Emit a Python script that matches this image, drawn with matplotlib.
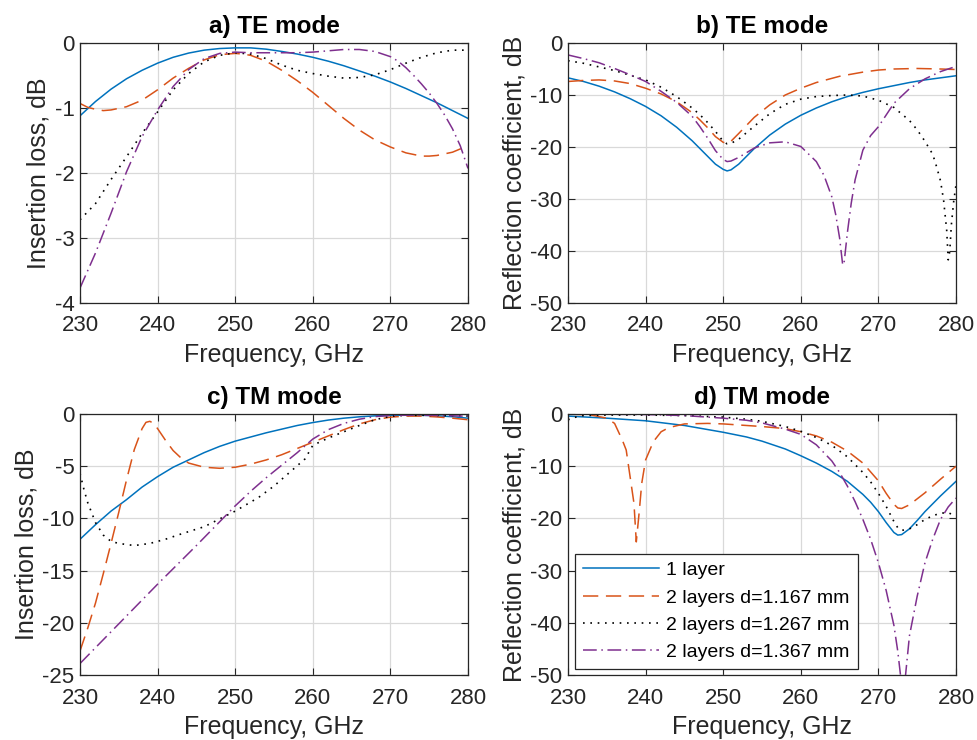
import matplotlib
matplotlib.use("Agg")
import matplotlib.pyplot as plt

plt.rcParams['font.family'] = ['Liberation Sans', 'DejaVu Sans']

# ---------------- data ----------------
series_labels = ["1 layer", "2 layers d=1.167 mm", "2 layers d=1.267 mm", "2 layers d=1.367 mm"]
panel_titles = ["a) TE mode", "b) TE mode", "c) TM mode", "d) TM mode"]
xlabel_text = "Frequency, GHz"
ylabels = ["Insertion loss, dB", "Reflection coefficient, dB", "Insertion loss, dB", "Reflection coefficient, dB"]
xticks = [230, 240, 250, 260, 270, 280]
yticks_a = [0, -1, -2, -3, -4]
yticks_b = [0, -10, -20, -30, -40, -50]
yticks_c = [0, -5, -10, -15, -20, -25]
yticks_d = [0, -10, -20, -30, -40, -50]

# a) TE insertion loss
a1_f = [230, 232, 234, 236, 238, 240, 242, 244, 246, 248, 250, 252, 254, 256, 258, 260, 262, 264, 266, 268, 270, 272, 274, 276, 278, 280]
a1_y = [-1.12, -0.90, -0.71, -0.55, -0.42, -0.31, -0.22, -0.155, -0.11, -0.085, -0.075, -0.075, -0.095, -0.13, -0.17, -0.22, -0.28, -0.35, -0.43, -0.51, -0.60, -0.70, -0.81, -0.92, -1.04, -1.16]
a2_f = [230, 231, 232, 233, 234, 236, 238, 240, 242, 244, 246, 248, 250, 251, 252, 254, 256, 258, 260, 262, 264, 266, 268, 270, 272, 274, 275, 276, 278, 280]
a2_y = [-0.93, -0.99, -1.02, -1.04, -1.03, -0.98, -0.88, -0.72, -0.54, -0.39, -0.26, -0.18, -0.16, -0.17, -0.19, -0.28, -0.42, -0.58, -0.76, -0.96, -1.16, -1.34, -1.49, -1.60, -1.69, -1.74, -1.74, -1.73, -1.68, -1.58]
a3_f = [230, 232, 234, 236, 238, 240, 242, 244, 246, 248, 250, 252, 254, 256, 258, 260, 262, 264, 266, 268, 270, 272, 274, 276, 278, 280]
a3_y = [-2.72, -2.47, -2.10, -1.75, -1.39, -1.06, -0.72, -0.47, -0.29, -0.19, -0.15, -0.17, -0.24, -0.34, -0.42, -0.47, -0.51, -0.54, -0.53, -0.49, -0.41, -0.31, -0.22, -0.15, -0.11, -0.11]
a4_f = [230, 232, 234, 236, 238, 240, 242, 244, 246, 248, 250, 252, 254, 256, 258, 260, 262, 264, 266, 268, 270, 271, 272, 273, 274, 275, 276, 277, 278, 279, 280]
a4_y = [-3.77, -3.23, -2.62, -1.98, -1.44, -1.03, -0.67, -0.41, -0.24, -0.16, -0.14, -0.15, -0.15, -0.15, -0.15, -0.14, -0.12, -0.10, -0.10, -0.13, -0.21, -0.28, -0.38, -0.50, -0.63, -0.77, -0.93, -1.11, -1.32, -1.58, -1.93]

# b) TE reflection
b1_f = [230, 232, 234, 236, 238, 240, 242, 244, 246, 247, 248, 249, 250, 250.5, 251, 252, 253, 254, 256, 258, 260, 262, 264, 266, 268, 270, 272, 274, 276, 278, 280]
b1_y = [-6.7, -7.4, -8.3, -9.4, -10.7, -12.2, -14.0, -16.2, -18.8, -20.3, -21.8, -23.3, -24.3, -24.6, -24.4, -23.3, -21.8, -20.3, -17.7, -15.6, -13.9, -12.5, -11.3, -10.3, -9.5, -8.8, -8.2, -7.6, -7.1, -6.7, -6.3]
b2_f = [230, 232, 234, 236, 238, 240, 242, 244, 246, 247, 248, 249, 250, 250.5, 251, 252, 254, 256, 258, 260, 262, 265, 268, 270, 272, 275, 278, 280]
b2_y = [-7.4, -7.2, -7.1, -7.3, -7.8, -8.7, -9.8, -11.3, -13.4, -14.8, -16.3, -18.0, -19.1, -19.3, -18.9, -17.4, -14.3, -11.9, -10.0, -8.7, -7.6, -6.4, -5.6, -5.2, -5.0, -4.9, -5.0, -5.1]
b3_f = [230, 232, 234, 236, 238, 240, 242, 244, 246, 247, 248, 249, 250, 250.5, 251, 252, 254, 256, 258, 260, 262, 264, 266, 268, 270, 272, 274, 275, 276, 277, 277.5, 278, 278.4, 278.8, 279, 279.2, 279.4, 279.7, 280]
b3_y = [-3.4, -3.9, -4.6, -5.3, -6.2, -7.1, -8.5, -10.3, -12.5, -13.8, -15.3, -17.0, -18.9, -19.4, -19.3, -18.5, -16.0, -13.6, -11.8, -10.8, -10.3, -10.1, -10.0, -10.2, -11.0, -12.4, -14.9, -16.7, -18.9, -21.4, -23.8, -26.5, -30.2, -36.0, -41.7, -40.0, -35.0, -30.5, -27.3]
b4_f = [230, 232, 234, 236, 238, 240, 242, 244, 246, 247, 248, 249, 250, 250.5, 251, 252, 254, 256, 258, 260, 262, 263, 264, 264.5, 265, 265.4, 265.6, 266, 266.5, 267, 268, 269, 270, 272, 274, 276, 278, 280]
b4_y = [-2.3, -3.0, -3.8, -4.9, -6.1, -7.4, -9.3, -11.4, -14.1, -16.1, -18.3, -20.7, -22.4, -22.8, -22.7, -22.0, -20.2, -19.2, -19.0, -19.9, -22.8, -25.5, -29.6, -33.0, -37.5, -42.7, -42.0, -36.5, -30.8, -26.3, -20.6, -17.8, -16.1, -11.6, -8.8, -6.9, -5.5, -4.5]

# c) TM insertion loss
c1_f = [230, 232, 234, 236, 238, 240, 242, 244, 246, 248, 250, 252, 254, 256, 258, 260, 262, 264, 266, 268, 270, 272, 274, 276, 278, 280]
c1_y = [-12.0, -10.6, -9.3, -8.2, -7.0, -6.0, -5.1, -4.4, -3.7, -3.1, -2.6, -2.2, -1.8, -1.45, -1.1, -0.82, -0.58, -0.4, -0.27, -0.18, -0.13, -0.11, -0.12, -0.17, -0.26, -0.4]
c2_f = [230, 231, 232, 233, 234, 235, 236, 237, 238, 238.5, 239, 239.5, 240, 241, 242, 243, 244, 246, 248, 250, 252, 254, 256, 258, 260, 262, 264, 266, 268, 270, 272, 274, 276, 278, 280]
c2_y = [-22.7, -20.5, -18.1, -15.3, -12.4, -9.4, -6.3, -3.4, -1.4, -0.8, -0.7, -0.9, -1.4, -2.5, -3.5, -4.2, -4.7, -5.1, -5.2, -5.1, -4.8, -4.4, -3.9, -3.3, -2.7, -2.1, -1.5, -0.95, -0.55, -0.3, -0.2, -0.2, -0.28, -0.4, -0.55]
c3_f = [230, 230.5, 231, 232, 233, 234, 235, 237, 239, 241, 243, 246, 250, 253, 255, 257, 259, 260, 262, 264, 266, 268, 270, 272, 275, 278, 280]
c3_y = [-5.7, -7.2, -8.5, -10.4, -11.6, -12.2, -12.4, -12.6, -12.4, -12.0, -11.5, -10.8, -9.3, -8.0, -6.9, -5.6, -4.3, -3.0, -2.3, -1.7, -1.1, -0.55, -0.22, -0.12, -0.13, -0.16, -0.2]
c4_f = [230, 235, 240, 245, 250, 252, 254, 256, 258, 260, 262, 264, 266, 268, 270, 272, 275, 278, 280]
c4_y = [-23.9, -20.1, -16.3, -12.6, -8.8, -7.4, -6.1, -4.9, -3.7, -2.4, -1.5, -0.9, -0.5, -0.25, -0.14, -0.12, -0.13, -0.17, -0.22]

# d) TM reflection
d1_f = [230, 235, 240, 245, 250, 253, 255, 258, 260, 262, 264, 266, 268, 269, 270, 271, 272, 272.5, 273, 274, 275, 276, 278, 280]
d1_y = [-0.4, -0.8, -1.3, -2.2, -3.5, -4.4, -5.2, -6.7, -8.0, -9.4, -11.0, -12.9, -15.4, -16.9, -18.7, -20.8, -22.7, -23.2, -23.1, -22.0, -20.4, -18.7, -15.7, -12.9]
d2_f = [230, 233, 235, 236, 237, 237.5, 238, 238.5, 238.8, 239.2, 239.5, 240, 241, 242, 243, 245, 248, 250, 253, 255, 258, 260, 262, 264, 266, 268, 270, 271, 272, 272.5, 273, 274, 276, 278, 280]
d2_y = [0.0, -0.2, -0.8, -1.8, -5.0, -6.9, -12.0, -17.1, -24.5, -18.4, -13.3, -8.8, -5.3, -3.4, -2.6, -1.9, -1.8, -1.9, -2.2, -2.4, -2.8, -3.4, -4.2, -5.4, -7.1, -9.4, -12.8, -15.2, -17.3, -18.0, -18.1, -17.4, -15.1, -12.5, -10.0]
d3_f = [230, 231, 232, 235, 240, 245, 250, 253, 255, 258, 260, 262, 264, 266, 268, 269, 270, 271, 272, 272.5, 273, 274, 275, 276, 277, 278, 279, 280]
d3_y = [-1.1, -0.6, -0.3, -0.2, -0.2, -0.3, -0.6, -1.0, -1.4, -2.4, -3.3, -4.5, -6.0, -8.2, -11.2, -13.0, -15.2, -17.7, -20.6, -21.8, -22.3, -22.0, -21.2, -20.2, -19.5, -19.0, -18.9, -19.6]
d4_f = [230, 235, 240, 245, 250, 253, 255, 258, 260, 262, 264, 265, 266, 267, 268, 269, 270, 271, 272, 272.5, 273, 273.2, 273.5, 274, 275, 276, 277, 278, 279, 280]
d4_y = [0.0, -0.05, -0.1, -0.3, -0.8, -1.2, -1.7, -2.9, -3.9, -5.9, -9.0, -11.2, -13.8, -16.8, -20.2, -24.0, -28.5, -33.8, -40.5, -45.5, -52.0, -56.0, -50.0, -42.5, -34.9, -28.5, -24.0, -20.2, -17.8, -16.1]

# ---------------- styling ----------------
colors = ["#0072BD", "#D95319", "#000000", "#7E2F8E"]
dash_styles = ["-", (0, (10.0, 5.0)), (0, (1.0, 3.4)), (0, (9.0, 3.0, 1.0, 3.0))]
lws = [1.1, 1.1, 1.2, 1.1]

panels = [
    ([a1_f, a2_f, a3_f, a4_f], [a1_y, a2_y, a3_y, a4_y], yticks_a, (-4, 0)),
    ([b1_f, b2_f, b3_f, b4_f], [b1_y, b2_y, b3_y, b4_y], yticks_b, (-50, 0)),
    ([c1_f, c2_f, c3_f, c4_f], [c1_y, c2_y, c3_y, c4_y], yticks_c, (-25, 0)),
    ([d1_f, d2_f, d3_f, d4_f], [d1_y, d2_y, d3_y, d4_y], yticks_d, (-50, 0)),
]

fig = plt.figure(figsize=(9.77, 7.40), dpi=100)
W, H = 977, 740
boxes = [(80, 43, 468, 303), (568, 43, 956, 303), (80, 414, 468, 675), (568, 414, 956, 675)]

axes = []
for i, (l, t, r, b) in enumerate(boxes):
    ax = fig.add_axes([l / W, 1 - b / H, (r - l) / W, (b - t) / H])
    xs, ys, yt, ylim = panels[i]
    for k in range(4):
        ax.plot(xs[k], ys[k], color=colors[k], linestyle=dash_styles[k], lw=lws[k], label=series_labels[k])
    ax.set_xlim(230, 280)
    ax.set_ylim(*ylim)
    ax.set_xticks(xticks)
    ax.set_yticks(yt)
    ax.set_xticklabels([str(v) for v in xticks])
    ax.set_yticklabels([str(v) for v in yt])
    ax.grid(True, color="#d9d9d9", lw=0.9)
    ax.set_axisbelow(True)
    ax.tick_params(direction="in", top=True, right=True, labelsize=16, colors="#262626", length=5, width=0.8)
    ax.tick_params(axis="x", pad=9)
    ax.tick_params(axis="y", pad=4)
    for s in ax.spines.values():
        s.set_color("#262626")
        s.set_linewidth(0.9)
    ax.set_xlabel(xlabel_text, fontsize=18, color="#262626", labelpad=5)
    ax.set_ylabel(ylabels[i], fontsize=18, color="#262626", labelpad=3)
    ax.set_title(panel_titles[i], fontsize=17.5, fontweight="bold", pad=7)
    axes.append(ax)

leg = axes[3].legend(loc="lower left", bbox_to_anchor=(0.018, 0.023), borderaxespad=0,
                     fontsize=14, handlelength=3.9, fancybox=False, framealpha=1,
                     edgecolor="#262626", borderpad=0.4, labelspacing=0.5, handletextpad=0.4)
leg.get_frame().set_linewidth(0.9)

fig.savefig("out.png", dpi=100)
